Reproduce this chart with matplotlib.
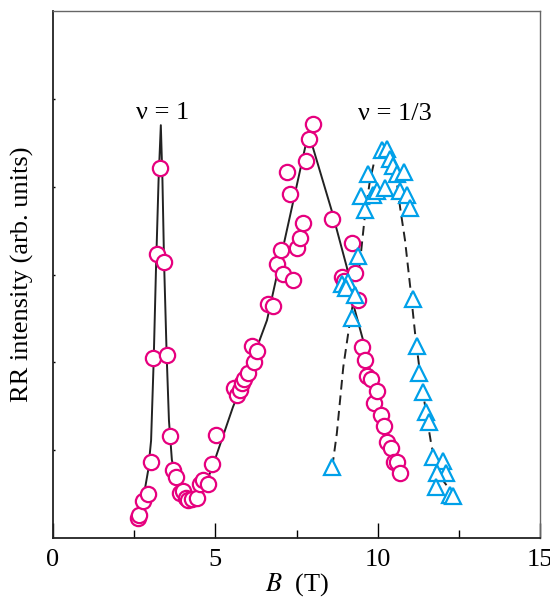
import numpy as np
import matplotlib
matplotlib.use("Agg")
import matplotlib.pyplot as plt

# circles (nu = 1 peak and the broad peak)
b_circ = [2.63, 2.66, 2.78, 2.92, 3.01, 3.09, 3.19, 3.30, 3.41, 3.50, 3.60, 3.71,
          3.79, 3.91, 4.01, 4.10, 4.17, 4.27, 4.43, 4.53, 4.63, 4.78, 4.91, 5.01,
          5.57, 5.66, 5.76, 5.81, 5.88, 6.00, 6.12, 6.20, 6.27, 6.63, 6.77, 6.91,
          7.01, 7.09, 7.21, 7.30, 7.40, 7.51, 7.61, 7.71, 7.80, 7.89, 8.00, 8.60,
          8.89, 8.96, 9.20, 9.30, 9.40, 9.51, 9.61, 9.66, 9.78, 9.89, 9.99, 10.10,
          10.19, 10.30, 10.40, 10.50, 10.60, 10.69]
i_circ = [0.23, 0.26, 0.42, 0.50, 0.87, 2.05, 3.23, 4.21, 3.14, 2.08, 1.16, 0.77,
          0.69, 0.51, 0.54, 0.45, 0.43, 0.44, 0.46, 0.61, 0.66, 0.61, 0.84, 1.17,
          1.71, 1.63, 1.68, 1.76, 1.81, 1.88, 2.19, 2.00, 2.13, 2.66, 2.64, 3.12,
          3.28, 3.01, 4.17, 3.92, 2.94, 3.30, 3.41, 3.59, 4.29, 4.54, 4.71, 3.63,
          2.97, 2.93, 3.36, 3.02, 2.71, 2.17, 2.03, 1.84, 1.81, 1.54, 1.67, 1.40,
          1.27, 1.09, 1.02, 0.86, 0.87, 0.74]

# triangles (nu = 1/3)
b_tri = [8.60, 8.89, 9.09, 9.02, 9.30, 9.20, 9.40, 9.61, 9.49, 9.71, 9.86, 9.97,
         10.22, 10.12, 10.30, 10.38, 10.48, 10.59, 10.81, 10.69, 10.89, 10.99,
         11.10, 11.20, 11.28, 11.39, 11.48, 11.59, 11.69, 12.00, 12.10, 11.82,
         11.80, 12.23, 12.33]
i_tri = [0.81, 2.89, 2.91, 2.85, 2.77, 2.50, 3.21, 3.74, 3.89, 4.14, 3.90, 3.95,
         3.99, 4.42, 4.43, 4.31, 4.24, 4.14, 4.17, 3.95, 3.91, 3.76,
         2.72, 2.19, 1.88, 1.66, 1.44, 1.32, 0.92, 0.88, 0.74, 0.74,
         0.58, 0.49, 0.48]

# guide lines
b_solid = [2.60, 2.77, 2.93, 3.02, 3.10, 3.17, 3.25, 3.32, 3.37, 3.42, 3.50, 3.57,
           3.66, 3.79, 3.97, 4.22, 4.47, 4.68, 4.90, 5.54, 6.28, 6.59, 7.79, 7.92,
           8.00, 8.58, 9.05, 9.24, 9.55, 9.82, 10.07, 10.32, 10.63, 10.69]
i_solid = [0.15, 0.43, 0.77, 1.11, 2.02, 3.05, 4.07, 4.70, 4.07, 3.14, 2.08, 1.34,
           0.89, 0.66, 0.50, 0.44, 0.49, 0.60, 0.80, 1.49, 2.17, 2.48, 4.49, 4.66,
           4.45, 3.73, 3.08, 2.67, 2.25, 1.82, 1.49, 1.11, 0.85, 0.74]

b_dash = [8.60, 8.74, 8.94, 9.15, 9.45, 9.61, 9.76, 9.92, 10.10, 10.16, 10.44,
          10.58, 10.69, 10.84, 11.00, 11.15, 11.30, 11.51, 11.66, 11.92, 12.12]
i_dash = [0.81, 1.19, 1.95, 2.48, 3.13, 3.69, 4.07, 4.33, 4.47, 4.49, 4.30,
          4.07, 3.76, 3.39, 2.86, 2.33, 1.88, 1.38, 1.04, 0.70, 0.60]

pink = '#E6007E'
cyan = '#00A0E9'

plt.rcParams['font.family'] = ['Liberation Serif', 'DejaVu Serif']
plt.rcParams['mathtext.fontset'] = 'stix'

fig = plt.figure(figsize=(5.5, 5.97), dpi=100)
ax = fig.add_axes([0.0964, 0.0988, 0.8856, 0.8828])

ax.plot(b_solid, i_solid, color='#222222', lw=1.4, zorder=2)
ax.plot(b_dash, i_dash, color='#222222', lw=1.4, ls=(0, (5, 3)), zorder=2)
ax.plot(b_circ, i_circ, ls='none', marker='o', ms=11, mfc='white', mec=pink,
        mew=1.6, zorder=3)
ax.plot(b_tri, i_tri, ls='none', marker='^', ms=11, mfc='white', mec=cyan,
        mew=1.6, zorder=4)

ax.text(3.39, 4.84, 'ν = 1', ha='center', va='center', fontsize=19)
ax.text(10.53, 4.83, 'ν = 1/3', ha='center', va='center', fontsize=19)

ax.set_xlim(0, 15)
ax.set_ylim(0, 6)
ax.set_xticks([0, 5, 10, 15])
ax.set_xticks([2.5, 7.5, 12.5], minor=True)
ax.set_yticks([1, 2, 3, 4, 5])
ax.set_yticklabels([])
ax.tick_params(axis='x', which='major', direction='in', length=10.5, width=1,
               labelsize=19, pad=8)
ax.tick_params(axis='x', which='minor', direction='in', length=5.5, width=1)
ax.tick_params(axis='y', direction='in', length=1.5, width=1)

ax.set_xlabel(r'$B$  (T)', fontsize=19, labelpad=0)
ax.set_ylabel('RR intensity (arb. units)', fontsize=19, labelpad=10)

for s in ['left', 'bottom']:
    ax.spines[s].set_linewidth(1.3)
    ax.spines[s].set_color('#222222')
for s in ['top', 'right']:
    ax.spines[s].set_linewidth(1.0)
    ax.spines[s].set_color('#666666')

fig.savefig('out.png', dpi=100)
